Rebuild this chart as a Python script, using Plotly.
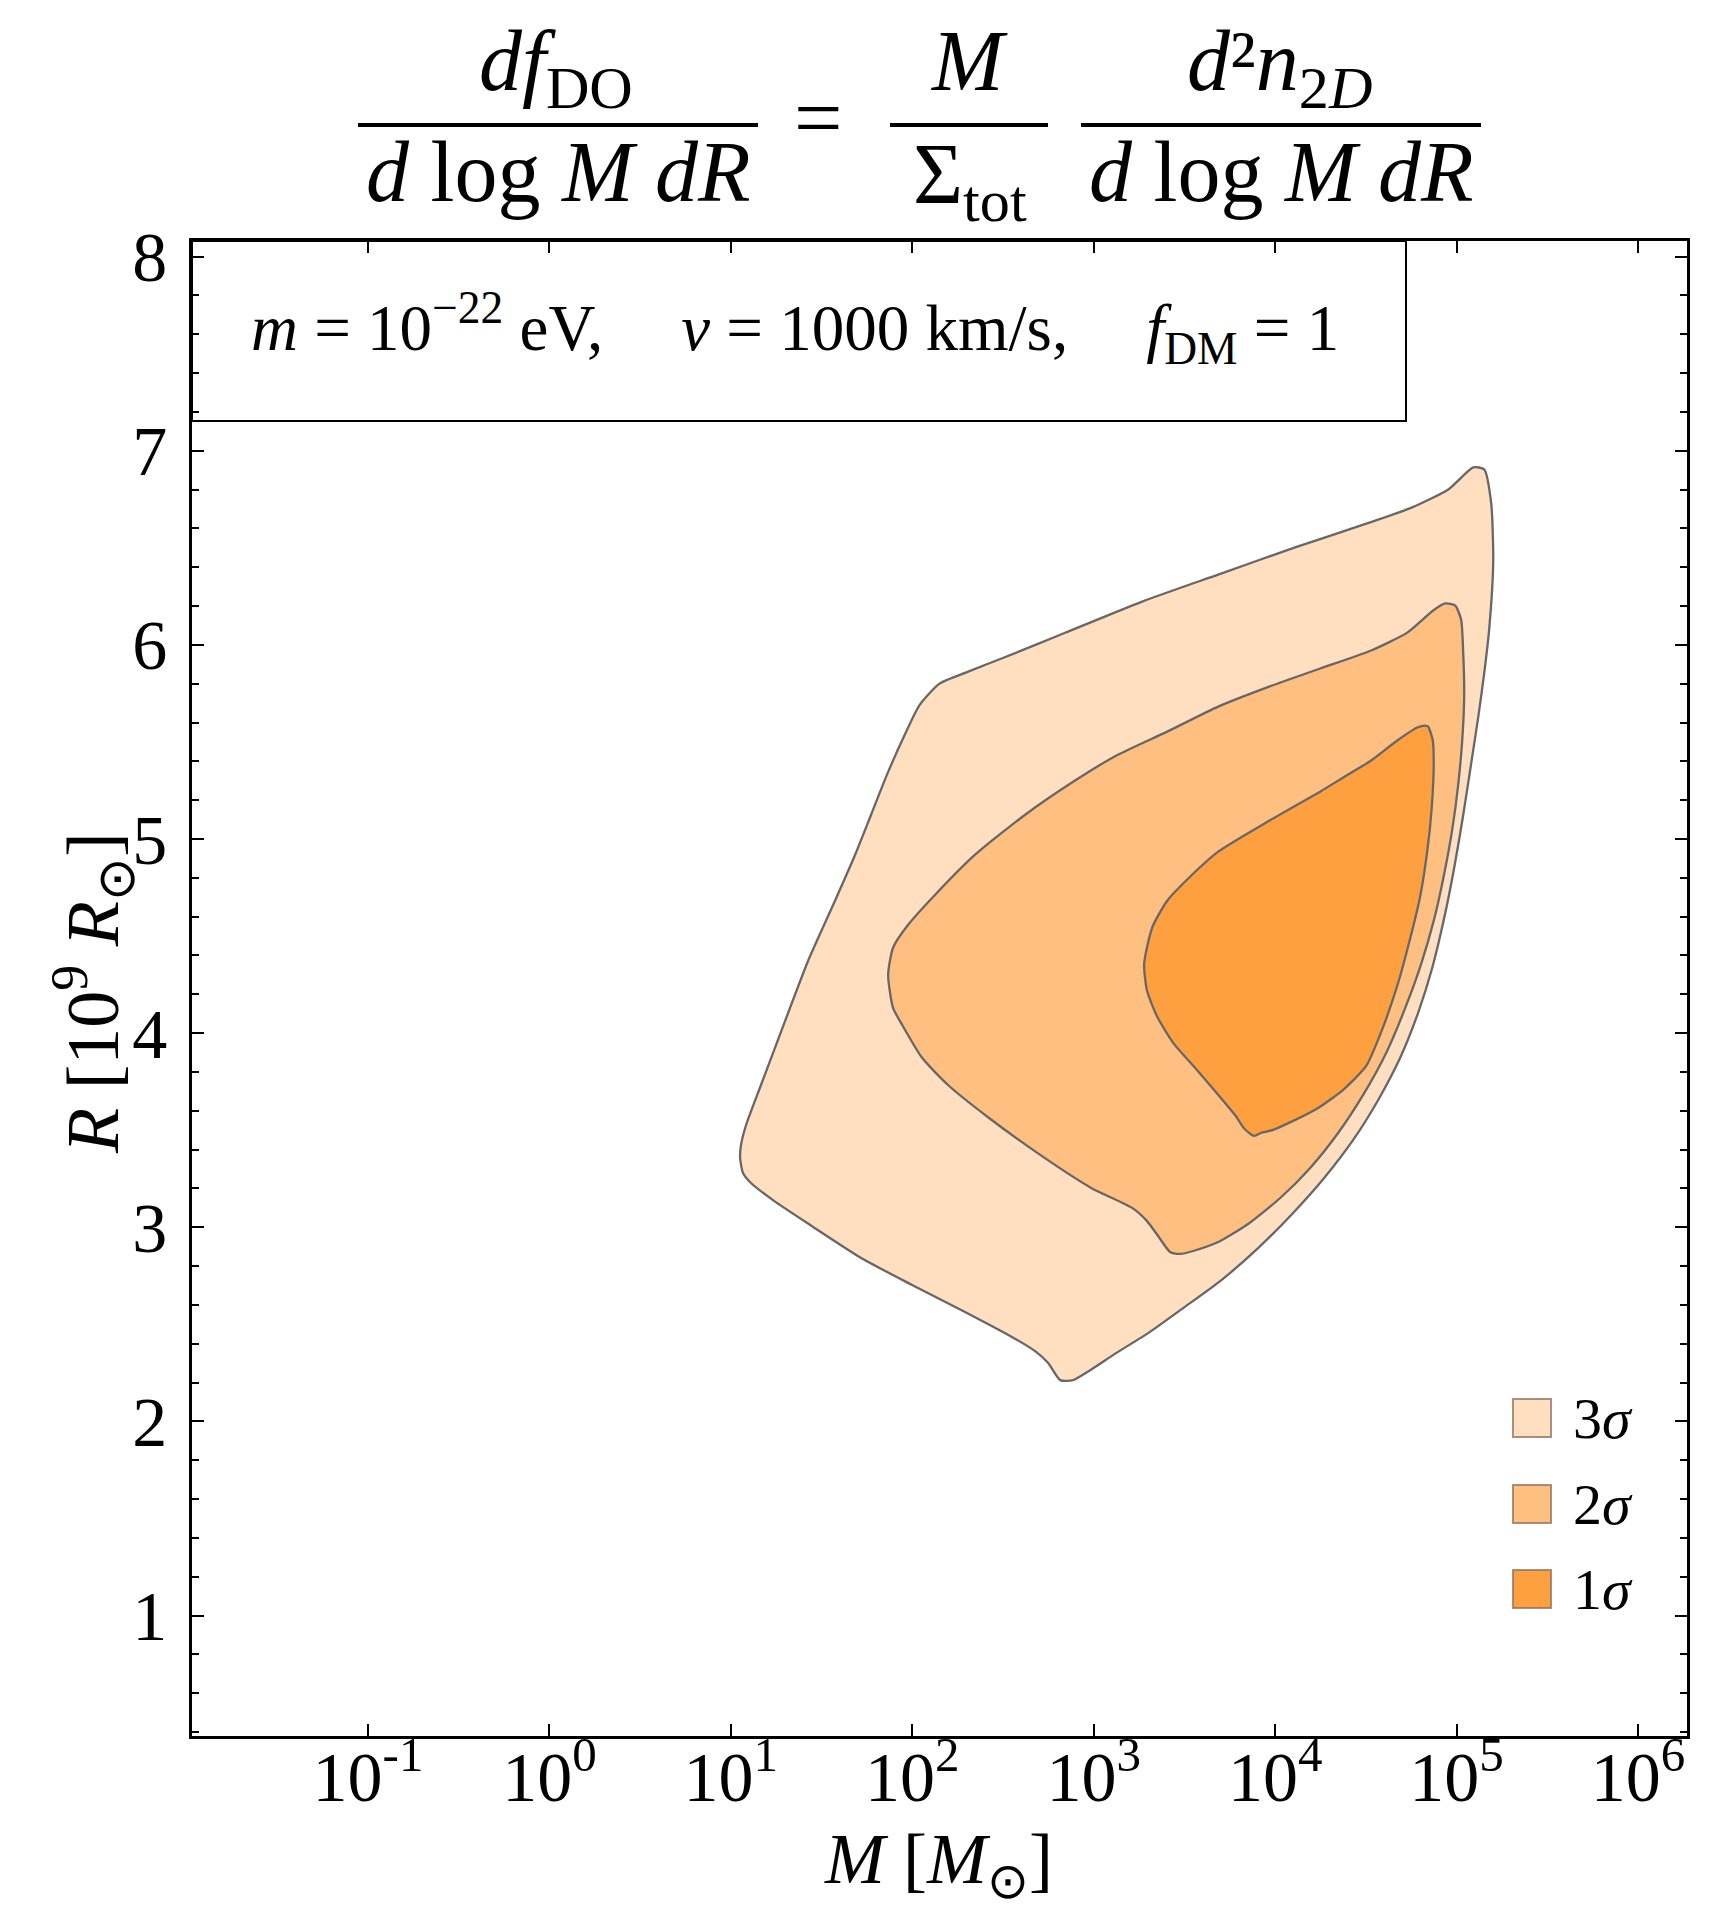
import numpy as np
import plotly.graph_objects as go

# ---------------- data ----------------
# contour boundaries: x = log10(M / Msun), y = R [1e9 Rsun]
LOGM_3SIG = [5.092, 5.152, 5.191, 5.202, 5.180, 5.152, 5.119, 5.081, 5.036, 4.987,
             4.932, 4.866, 4.788, 4.689, 4.568, 4.430, 4.270, 4.099, 3.906, 3.697,
             3.493, 3.300, 3.123, 2.980, 2.886, 2.815, 2.749,
             2.677, 2.561, 2.280, 1.999, 1.718, 1.437, 1.238, 1.111, 1.067, 1.051,
             1.056, 1.084, 1.166, 1.299, 1.426, 1.574, 1.685, 1.773, 1.860, 1.950,
             2.040, 2.150, 2.308, 2.506, 2.682, 2.842, 3.267, 3.686, 4.110, 4.474,
             4.755, 4.954]
R_3SIG = [6.914, 6.904, 6.728, 6.429, 6.084, 5.852, 5.625, 5.393, 5.120, 4.852,
          4.594, 4.337, 4.105, 3.873, 3.656, 3.450, 3.254, 3.074, 2.893, 2.723,
          2.584, 2.455, 2.352, 2.264, 2.213, 2.213, 2.301,
          2.362, 2.429, 2.569, 2.703, 2.842, 3.012, 3.136, 3.228, 3.280, 3.357,
          3.424, 3.527, 3.733, 4.063, 4.373, 4.682, 4.919, 5.125, 5.330, 5.520,
          5.690, 5.800, 5.862, 5.935, 6.001, 6.062, 6.223, 6.362, 6.502, 6.615,
          6.708, 6.800]

LOGM_2SIG = [4.937, 4.992, 5.025, 5.036, 5.042, 5.031, 5.009, 4.976, 4.932, 4.877,
             4.805, 4.717, 4.612, 4.485, 4.347, 4.193, 4.028, 3.851, 3.686,
             3.548, 3.476, 3.421, 3.355, 3.294, 3.212, 2.986, 2.705, 2.423, 2.197,
             2.054, 1.944, 1.894, 1.867, 1.894, 1.977, 2.126, 2.346, 2.622, 2.897,
             3.123, 3.405, 3.686, 3.967, 4.248, 4.529, 4.728, 4.871]
R_2SIG = [6.213, 6.203, 6.130, 5.971, 5.739, 5.507, 5.280, 5.048, 4.821, 4.589,
          4.357, 4.130, 3.898, 3.682, 3.486, 3.306, 3.151, 3.017, 2.924,
          2.878, 2.863, 2.873, 2.955, 3.032, 3.100, 3.203, 3.373, 3.563, 3.733,
          3.873, 4.043, 4.130, 4.300, 4.440, 4.558, 4.713, 4.919, 5.125, 5.301,
          5.429, 5.553, 5.682, 5.785, 5.878, 5.971, 6.063, 6.177]

LOGM_1SIG = [4.827, 4.843, 4.868, 4.874, 4.863, 4.838, 4.799, 4.741, 4.673, 4.587,
             4.502, 4.375, 4.237, 4.099, 3.989, 3.923, 3.884, 3.829, 3.785, 3.702,
             3.575, 3.438, 3.350, 3.294, 3.278, 3.322, 3.405, 3.548, 3.686, 3.967,
             4.248, 4.391, 4.529, 4.673, 4.783]
R_1SIG = [5.584, 5.579, 5.512, 5.393, 5.161, 4.935, 4.703, 4.476, 4.244, 4.012,
          3.831, 3.708, 3.615, 3.548, 3.502, 3.487, 3.471, 3.509, 3.571, 3.665,
          3.804, 3.950, 4.084, 4.218, 4.357, 4.543, 4.682, 4.821, 4.935, 5.094,
          5.244, 5.326, 5.404, 5.507, 5.574]

LEVEL_LABELS = ["3", "2", "1"]
LEVEL_COLORS = ["#FFDFC0", "#FFBF80", "#FFA040"]
X_TICK_EXPONENTS = [-1, 0, 1, 2, 3, 4, 5, 6]
Y_TICKS = [1, 2, 3, 4, 5, 6, 7, 8]

# ---------------- layout geometry (pixels) ----------------
W, H = 1711, 1912
ML, MR, MT, MB = 184, 32, 233, 184
PW, PH = W - ML - MR, H - MT - MB
FONT = "Liberation Serif"
LINE_COLOR = "#676767"


def px(x):
    return (x - ML) / PW


def py(y):
    return (H - MB - y) / PH


fig = go.Figure()

contours = [(LOGM_3SIG, R_3SIG), (LOGM_2SIG, R_2SIG), (LOGM_1SIG, R_1SIG)]
for (lm, rr), col in zip(contours, LEVEL_COLORS):
    fig.add_trace(go.Scatter(
        x=np.power(10.0, np.array(lm + lm[:1])), y=rr + rr[:1],
        mode="lines", fill="toself", fillcolor=col,
        line=dict(color=LINE_COLOR, width=2.3, shape="spline", smoothing=0.6),
        hoverinfo="skip", showlegend=False))

tickvals = [10.0 ** e for e in X_TICK_EXPONENTS]
ticktext = [f"10<sup>{e}</sup>" for e in X_TICK_EXPONENTS]

fig.update_xaxes(
    type="log", range=[-1.97, 6.27], tickvals=tickvals, ticktext=ticktext,
    ticks="inside", ticklen=12, tickwidth=2, tickcolor="black",
    showline=True, linewidth=2.5, linecolor="black", mirror="ticks",
    showgrid=False, zeroline=False, ticklabelstandoff=-22,
    tickfont=dict(family=FONT, size=70, color="black"))
fig.update_yaxes(
    range=[0.38, 8.08], tickvals=Y_TICKS,
    ticks="inside", ticklen=12, tickwidth=2, tickcolor="black",
    minor=dict(dtick=0.2, tick0=0, ticks="inside", ticklen=7, tickwidth=1.5,
               tickcolor="black", showgrid=False),
    showline=True, linewidth=2.5, linecolor="black", mirror="ticks",
    showgrid=False, zeroline=False, ticklabelstandoff=8,
    tickfont=dict(family=FONT, size=70, color="black"))

shapes = []
annotations = []

# parameter box
shapes.append(dict(type="rect", xref="paper", yref="paper",
                   x0=px(ML), x1=px(1398), y0=py(413), y1=py(MT),
                   line=dict(color="black", width=2), fillcolor="rgba(0,0,0,0)"))
annotations.append(dict(
    xref="paper", yref="paper", x=px(787), y=py(320), xanchor="center", yanchor="middle",
    showarrow=False,
    text=("<i>m</i> = 10<sup>\u221222</sup> eV,\u2003\u2009<i>v</i> = 1000 km/s,"
          "\u2003\u2009<i>f</i><sub>DM</sub> = 1"),
    font=dict(family=FONT, size=65, color="black")))

# title formula
TF = 86
bars = [(350, 750), (882, 1040), (1073, 1473)]
for x0, x1 in bars:
    shapes.append(dict(type="line", xref="paper", yref="paper",
                       x0=px(x0), x1=px(x1), y0=py(117), y1=py(117),
                       line=dict(color="black", width=4)))
title_parts = [
    ("<i>df</i><sub>DO</sub>", 548, 59),
    ("<i>d</i> log <i>M</i> <i>dR</i>", 550, 164),
    ("=", 810, 110),
    ("<i>M</i>", 961, 53),
    ("\u03a3<sub>tot</sub>", 962, 172),
    ("<i>d</i>\u00b2<i>n</i><sub>2<i>D</i></sub>", 1271, 59),
    ("<i>d</i> log <i>M</i> <i>dR</i>", 1273, 164),
]
for txt, cx, cy in title_parts:
    annotations.append(dict(xref="paper", yref="paper", x=px(cx), y=py(cy),
                            xanchor="center", yanchor="middle", showarrow=False,
                            text=txt, font=dict(family=FONT, size=TF, color="black")))

# axis titles
annotations.append(dict(xref="paper", yref="paper", x=px(930), y=py(1856),
                        xanchor="center", yanchor="middle", showarrow=False,
                        text="<i>M</i> [<i>M</i><sub>\u2299</sub>]",
                        font=dict(family=FONT, size=72, color="black")))
annotations.append(dict(xref="paper", yref="paper", x=px(85), y=py(985),
                        xanchor="center", yanchor="middle", showarrow=False, textangle=-90,
                        text="<i>R</i> [10<sup>9</sup> <i>R</i><sub>\u2299</sub>]",
                        font=dict(family=FONT, size=74, color="black")))

# legend (custom swatches)
leg_y = [1410, 1496, 1581]
for lab, col, yc in zip(LEVEL_LABELS, LEVEL_COLORS, leg_y):
    shapes.append(dict(type="rect", xref="paper", yref="paper",
                       x0=px(1505), x1=px(1543), y0=py(yc + 19), y1=py(yc - 19),
                       fillcolor=col, line=dict(color="rgba(140,110,90,0.75)", width=2)))
    annotations.append(dict(xref="paper", yref="paper", x=px(1563), y=py(yc),
                            xanchor="left", yanchor="middle", showarrow=False,
                            text=f"{lab}<i>\u03c3</i>",
                            font=dict(family=FONT, size=58, color="black")))

fig.update_layout(
    width=W, height=H,
    margin=dict(l=ML, r=MR, t=MT, b=MB, autoexpand=False),
    paper_bgcolor="white", plot_bgcolor="white",
    shapes=shapes, annotations=annotations,
    hovermode=False, showlegend=False)

fig.write_html("out.html")
